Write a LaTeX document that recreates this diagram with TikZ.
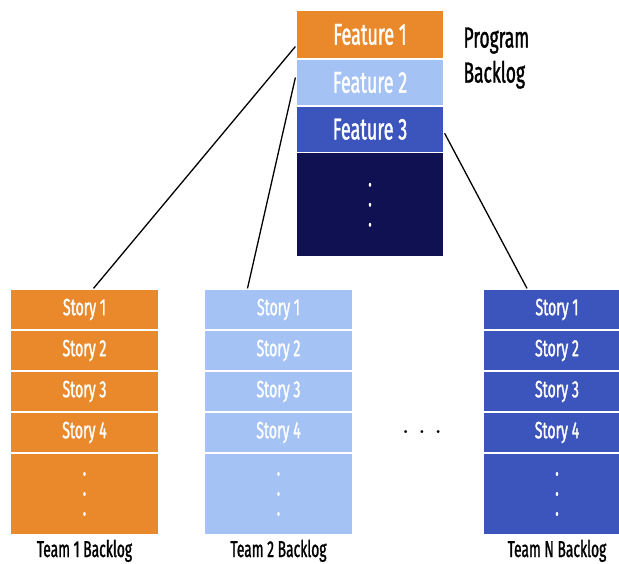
\documentclass[tikz,border=0pt]{standalone}
\usepackage{fontspec}
\newfontfamily\condfont[FakeStretch=0.6,FakeBold=1.2]{Fira Sans}
\definecolor{featorange}{HTML}{E9892B}
\definecolor{featlight}{HTML}{A4C2F4}
\definecolor{featblue}{HTML}{3B55BD}
\definecolor{featnavy}{HTML}{0F1152}

\newcommand\cellwidth{148pt}
\newcommand\storyheight{41pt}
\newcommand\restheight{82pt}

\tikzset{
  cell/.style={draw=white,line width=1.2pt,minimum width=\cellwidth,inner sep=0pt,text=white},
  featcell/.style={cell,font=\condfont\fontsize{30}{30}\selectfont},
  storycell/.style={cell,minimum height=\storyheight,font=\condfont\fontsize{23.5}{23.5}\selectfont},
  dotcell/.style={cell,align=center,font=\condfont\bfseries\fontsize{20}{20}\selectfont},
  caption/.style={anchor=base,inner sep=0pt,font=\condfont\fontsize{23}{23}\selectfont},
  link/.style={line width=1.3pt}
}

\begin{document}
\begin{tikzpicture}[x=1pt,y=-1pt]
    \clip (0,0) rectangle (619,564);

    % program backlog
    \node[featcell,fill=featorange,minimum height=49pt] (f1) at (370,34.5) {Feature 1};
    \node[featcell,fill=featlight,minimum height=47pt] (f2) at (370,82.5) {Feature 2};
    \node[featcell,fill=featblue,minimum height=46.5pt] (f3) at (370,129.25) {Feature 3};
    \node[dotcell,fill=featnavy,minimum height=104.5pt] (fdots) at (370,204.75) {.\\.\\.};
    \node[anchor=north west,align=left,font=\condfont\fontsize{29}{35}\selectfont] (prog) at (460,24) {Program\\Backlog};

    % team 1
    \node[storycell,fill=featorange] (t1s1) at (84.5,309.5) {Story 1};
    \node[storycell,fill=featorange] (t1s2) at (84.5,350.5) {Story 2};
    \node[storycell,fill=featorange] (t1s3) at (84.5,391.5) {Story 3};
    \node[storycell,fill=featorange] (t1s4) at (84.5,432.5) {Story 4};
    \node[dotcell,fill=featorange,minimum height=\restheight] (t1dots) at (84.5,494) {.\\.\\.};
    \node[caption] (t1cap) at (84.5,557) {Team 1 Backlog};

    % team 2
    \node[storycell,fill=featlight] (t2s1) at (278.5,309.5) {Story 1};
    \node[storycell,fill=featlight] (t2s2) at (278.5,350.5) {Story 2};
    \node[storycell,fill=featlight] (t2s3) at (278.5,391.5) {Story 3};
    \node[storycell,fill=featlight] (t2s4) at (278.5,432.5) {Story 4};
    \node[dotcell,fill=featlight,minimum height=\restheight] (t2dots) at (278.5,494) {.\\.\\.};
    \node[caption] (t2cap) at (278.5,557) {Team 2 Backlog};

    % team N
    \node[storycell,fill=featblue] (tns1) at (557,309.5) {Story 1};
    \node[storycell,fill=featblue] (tns2) at (557,350.5) {Story 2};
    \node[storycell,fill=featblue] (tns3) at (557,391.5) {Story 3};
    \node[storycell,fill=featblue] (tns4) at (557,432.5) {Story 4};
    \node[dotcell,fill=featblue,minimum height=\restheight] (tndots) at (557,494) {.\\.\\.};
    \node[caption] (tncap) at (557,557) {Team N Backlog};

    \node[font=\bfseries\fontsize{20}{20}\selectfont] (more) at (422,432) {. . .};

    % links
    \draw[link] ([yshift=-12pt]f1.west) -- ([xshift=9pt]t1s1.north);
    \draw[link] ([yshift=5pt]f2.west) -- ([xshift=-31pt]t2s1.north);
    \draw[link] ([yshift=-4pt]f3.east) -- ([xshift=-30pt]tns1.north);
\end{tikzpicture}
\end{document}
